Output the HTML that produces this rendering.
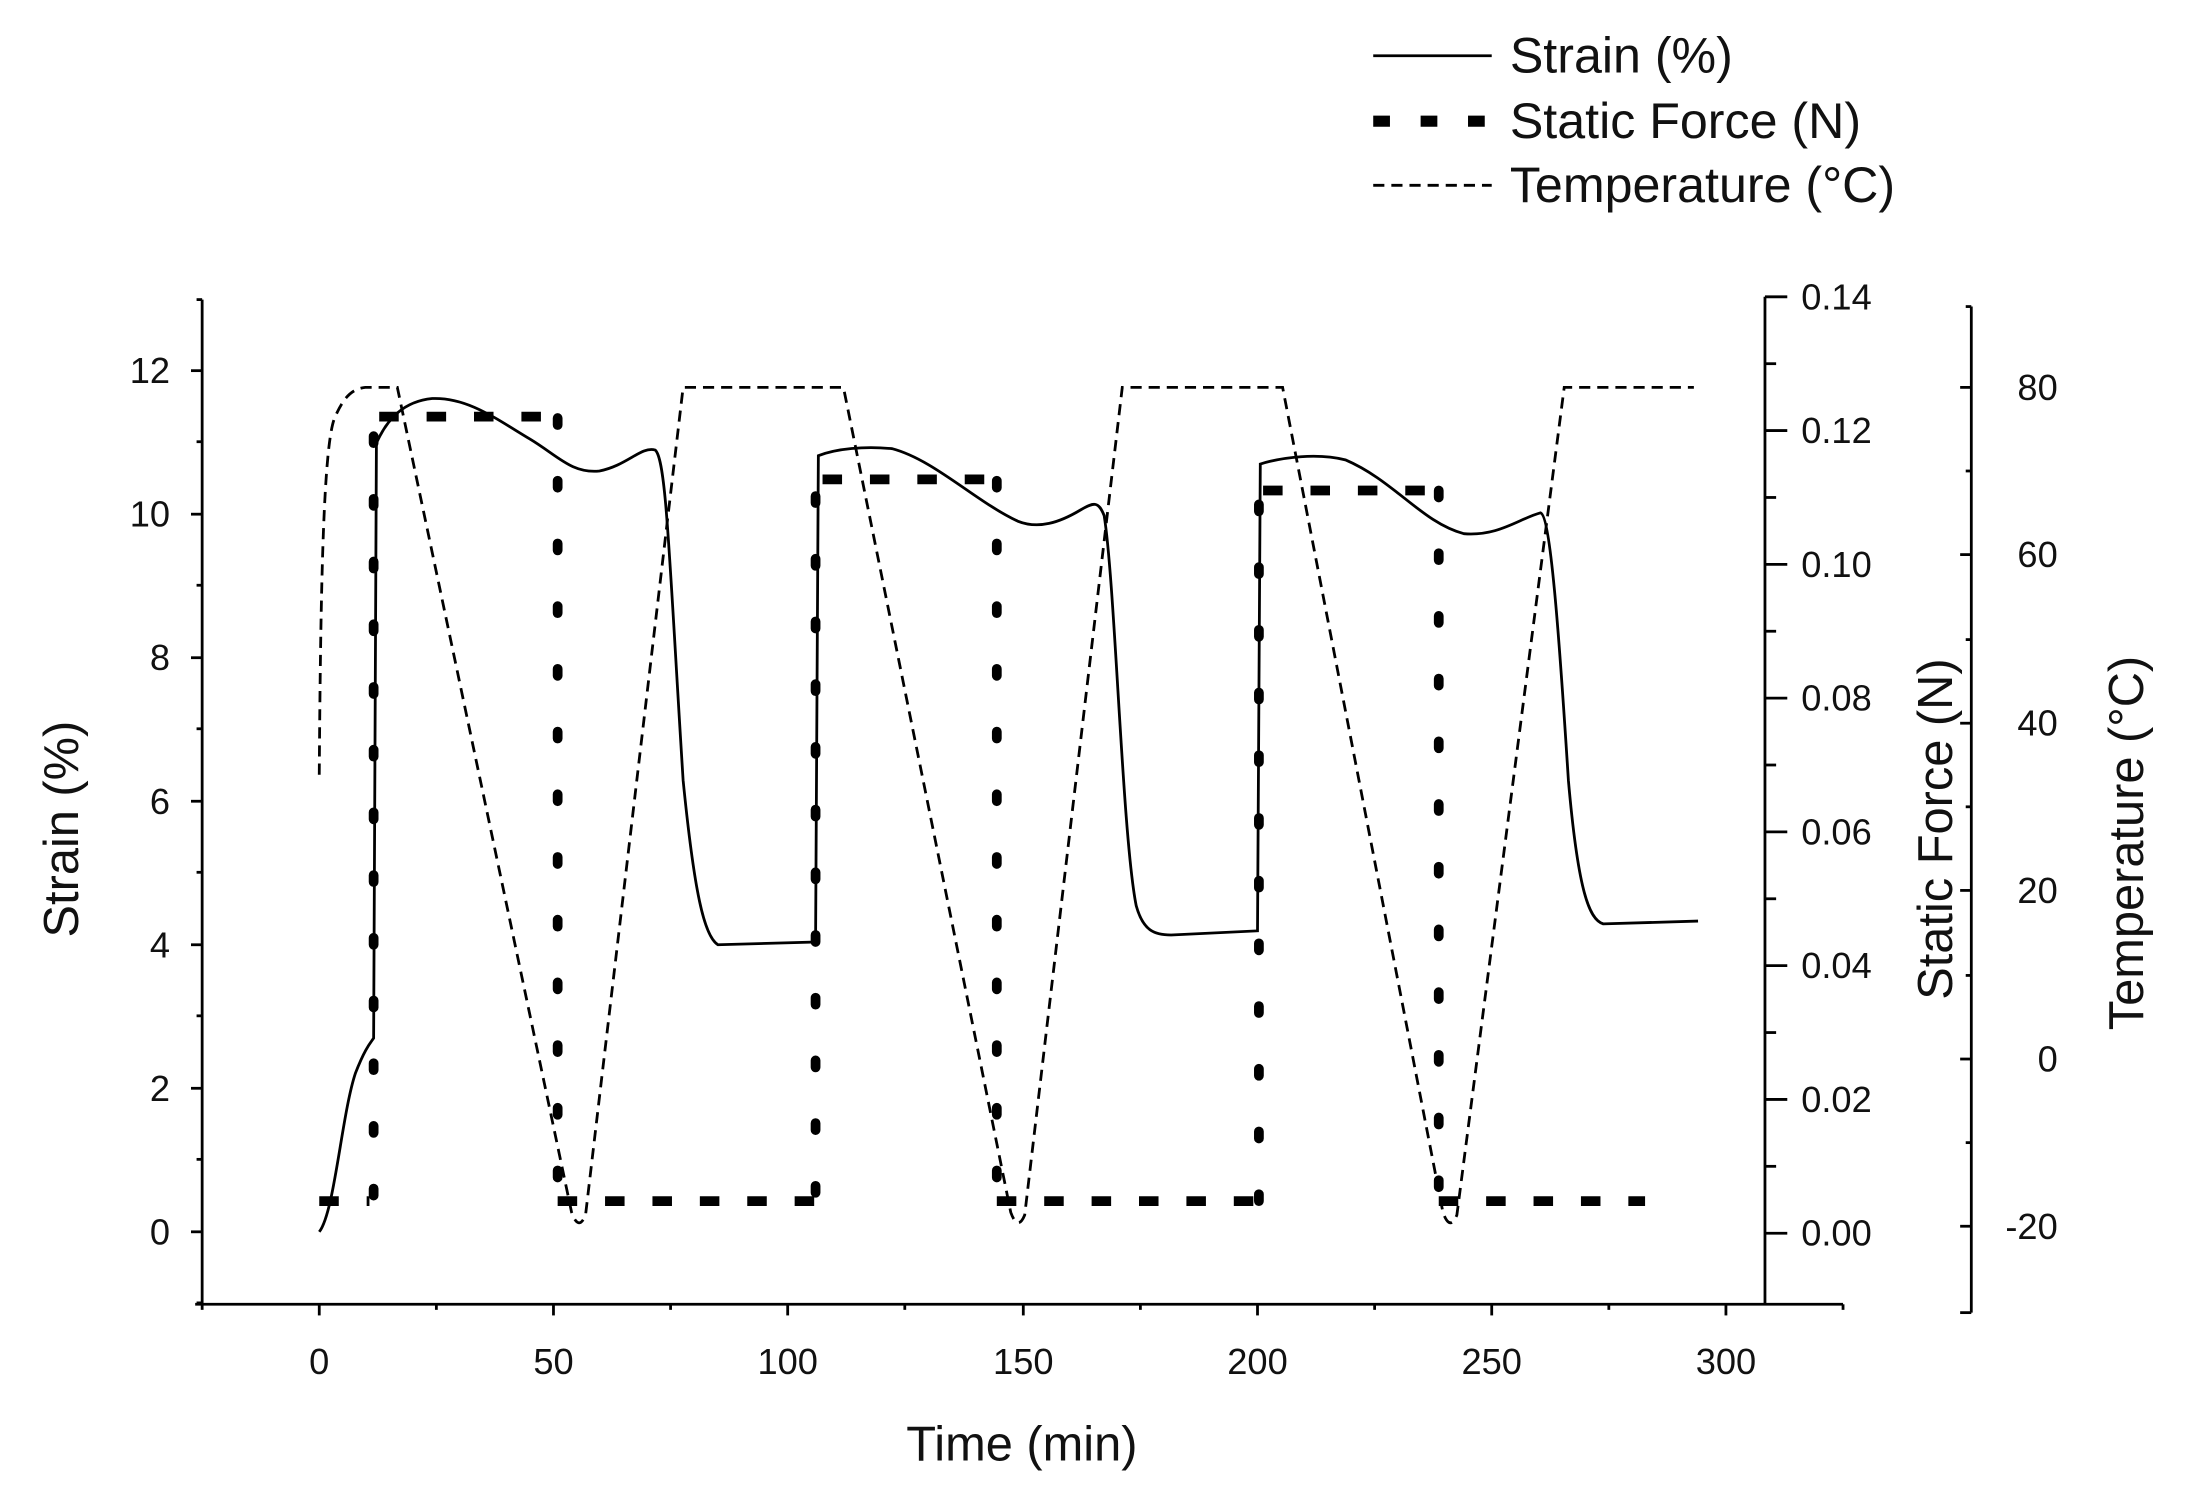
<!DOCTYPE html>
<html><head><meta charset="utf-8"><style>
html,body{margin:0;padding:0;background:#fff}
svg{display:block}
text{font-family:"Liberation Sans",sans-serif;fill:#111}
</style></head><body>
<svg width="2186" height="1491" viewBox="0 0 1568 1070" preserveAspectRatio="none" xmlns="http://www.w3.org/2000/svg">
<rect width="1568" height="1070" fill="#fff"/>
<g stroke="#000" stroke-width="2" fill="none">
<line x1="145" y1="215" x2="145" y2="936"/>
<line x1="137" y1="884" x2="145" y2="884"/><line x1="137" y1="781" x2="145" y2="781"/><line x1="137" y1="678" x2="145" y2="678"/><line x1="137" y1="575" x2="145" y2="575"/><line x1="137" y1="472" x2="145" y2="472"/><line x1="137" y1="369" x2="145" y2="369"/><line x1="137" y1="266" x2="145" y2="266"/>
<line x1="141" y1="935" x2="145" y2="935"/><line x1="141" y1="832" x2="145" y2="832"/><line x1="141" y1="729" x2="145" y2="729"/><line x1="141" y1="626" x2="145" y2="626"/><line x1="141" y1="523" x2="145" y2="523"/><line x1="141" y1="420" x2="145" y2="420"/><line x1="141" y1="317" x2="145" y2="317"/><line x1="141" y1="215" x2="145" y2="215"/>
<line x1="140" y1="936" x2="1322" y2="936"/>
<line x1="229" y1="936" x2="229" y2="944"/><line x1="397" y1="936" x2="397" y2="944"/><line x1="565" y1="936" x2="565" y2="944"/><line x1="734" y1="936" x2="734" y2="944"/><line x1="902" y1="936" x2="902" y2="944"/><line x1="1070" y1="936" x2="1070" y2="944"/><line x1="1238" y1="936" x2="1238" y2="944"/>
<line x1="145" y1="936" x2="145" y2="940"/><line x1="313" y1="936" x2="313" y2="940"/><line x1="481" y1="936" x2="481" y2="940"/><line x1="649" y1="936" x2="649" y2="940"/><line x1="818" y1="936" x2="818" y2="940"/><line x1="986" y1="936" x2="986" y2="940"/><line x1="1154" y1="936" x2="1154" y2="940"/><line x1="1322" y1="936" x2="1322" y2="940"/>
<line x1="1266" y1="213" x2="1266" y2="936"/>
<line x1="1266" y1="885" x2="1282" y2="885"/><line x1="1266" y1="789" x2="1282" y2="789"/><line x1="1266" y1="693" x2="1282" y2="693"/><line x1="1266" y1="597" x2="1282" y2="597"/><line x1="1266" y1="501" x2="1282" y2="501"/><line x1="1266" y1="405" x2="1282" y2="405"/><line x1="1266" y1="309" x2="1282" y2="309"/><line x1="1266" y1="213" x2="1282" y2="213"/>
<line x1="1266" y1="837" x2="1274" y2="837"/><line x1="1266" y1="741" x2="1274" y2="741"/><line x1="1266" y1="645" x2="1274" y2="645"/><line x1="1266" y1="549" x2="1274" y2="549"/><line x1="1266" y1="453" x2="1274" y2="453"/><line x1="1266" y1="357" x2="1274" y2="357"/><line x1="1266" y1="261" x2="1274" y2="261"/>
<line x1="1414" y1="220" x2="1414" y2="942"/>
<line x1="1406" y1="278" x2="1414" y2="278"/><line x1="1406" y1="398" x2="1414" y2="398"/><line x1="1406" y1="519" x2="1414" y2="519"/><line x1="1406" y1="639" x2="1414" y2="639"/><line x1="1406" y1="760" x2="1414" y2="760"/><line x1="1406" y1="880" x2="1414" y2="880"/>
<line x1="1410" y1="220" x2="1414" y2="220"/><line x1="1410" y1="338" x2="1414" y2="338"/><line x1="1410" y1="459" x2="1414" y2="459"/><line x1="1410" y1="579" x2="1414" y2="579"/><line x1="1410" y1="700" x2="1414" y2="700"/><line x1="1410" y1="820" x2="1414" y2="820"/><line x1="1406" y1="942" x2="1414" y2="942"/>
</g>
<g font-size="26" text-anchor="end">
<text x="122" y="893">0</text><text x="122" y="790">2</text><text x="122" y="687">4</text><text x="122" y="584">6</text><text x="122" y="481">8</text><text x="122" y="378">10</text><text x="122" y="275">12</text>
</g>
<g font-size="26" text-anchor="middle">
<text x="229" y="986">0</text><text x="397" y="986">50</text><text x="565" y="986">100</text><text x="734" y="986">150</text><text x="902" y="986">200</text><text x="1070" y="986">250</text><text x="1238" y="986">300</text>
</g>
<g font-size="26">
<text x="1292" y="894">0.00</text><text x="1292" y="798">0.02</text><text x="1292" y="702">0.04</text><text x="1292" y="606">0.06</text><text x="1292" y="510">0.08</text><text x="1292" y="414">0.10</text><text x="1292" y="318">0.12</text><text x="1292" y="222">0.14</text>
</g>
<g font-size="26" text-anchor="end">
<text x="1476" y="287">80</text><text x="1476" y="407">60</text><text x="1476" y="528">40</text><text x="1476" y="648">20</text><text x="1476" y="769">0</text><text x="1476" y="889">-20</text>
</g>
<text x="733" y="1048" font-size="35" text-anchor="middle">Time (min)</text>
<text transform="translate(56,595) rotate(-90)" font-size="35" text-anchor="middle">Strain (%)</text>
<text transform="translate(1400,595) rotate(-90)" font-size="35" text-anchor="middle">Static Force (N)</text>
<text transform="translate(1537,605) rotate(-90)" font-size="35" text-anchor="middle">Temperature (°C)</text>
<line x1="985" y1="40" x2="1070" y2="40" stroke="#000" stroke-width="2"/>
<line x1="985" y1="87" x2="1070" y2="87" stroke="#000" stroke-width="8" stroke-dasharray="12 22"/>
<line x1="985" y1="133" x2="1070" y2="133" stroke="#000" stroke-width="2" stroke-dasharray="8 5"/>
<text x="1083" y="52" font-size="36">Strain (%)</text>
<text x="1083" y="99" font-size="36">Static Force (N)</text>
<text x="1083" y="145" font-size="36">Temperature (°C)</text>
<path d="M229,556 C230,420 232,320 240,300 C246,286 252,279 262,278 L285,278 L410,870 Q415,884 420,872 L490,278 L605,278 L725,870 Q730,884 735,872 L805,278 L920,278 L1035,870 Q1040,884 1045,872 L1122,278 L1215,278" fill="none" stroke="#000" stroke-width="2" stroke-dasharray="8 5"/>
<path d="M229,884 C240,870 245,800 255,770 C262,752 266,748 268,745 L270,318 C278,300 290,288 310,286 C335,285 355,300 380,315 C400,327 410,340 430,338 C450,334 460,320 470,323 C478,330 480,400 490,560 C498,640 505,672 515,678 L585,676 L587,327 C600,322 620,320 640,322 C670,330 700,360 730,374 C745,380 760,375 775,366 C785,360 788,360 792,370 C800,420 805,600 815,650 C820,668 828,671 840,671 L902,668 L904,333 C920,328 945,325 965,330 C1000,345 1020,375 1050,383 C1075,385 1090,372 1105,368 C1112,370 1118,450 1125,560 C1132,640 1140,660 1150,663 L1218,661" fill="none" stroke="#000" stroke-width="2"/>
<g fill="none" stroke="#000" stroke-width="7">
<path d="M229,862 H265 M400,862 H585 M715,862 H902 M1032,862 H1180 M272,299 H395 M590,344 H712 M906,352 H1030" stroke-dasharray="14 20"/>
</g>
<g fill="none" stroke="#000" stroke-width="7" stroke-linecap="round">
<path d="M268,858 V312 M400,300 V862 M585,856 V345 M715,345 V862 M903,862 V352 M1032,352 V862" stroke-dasharray="5 40"/>
</g>
</svg>
</body></html>
